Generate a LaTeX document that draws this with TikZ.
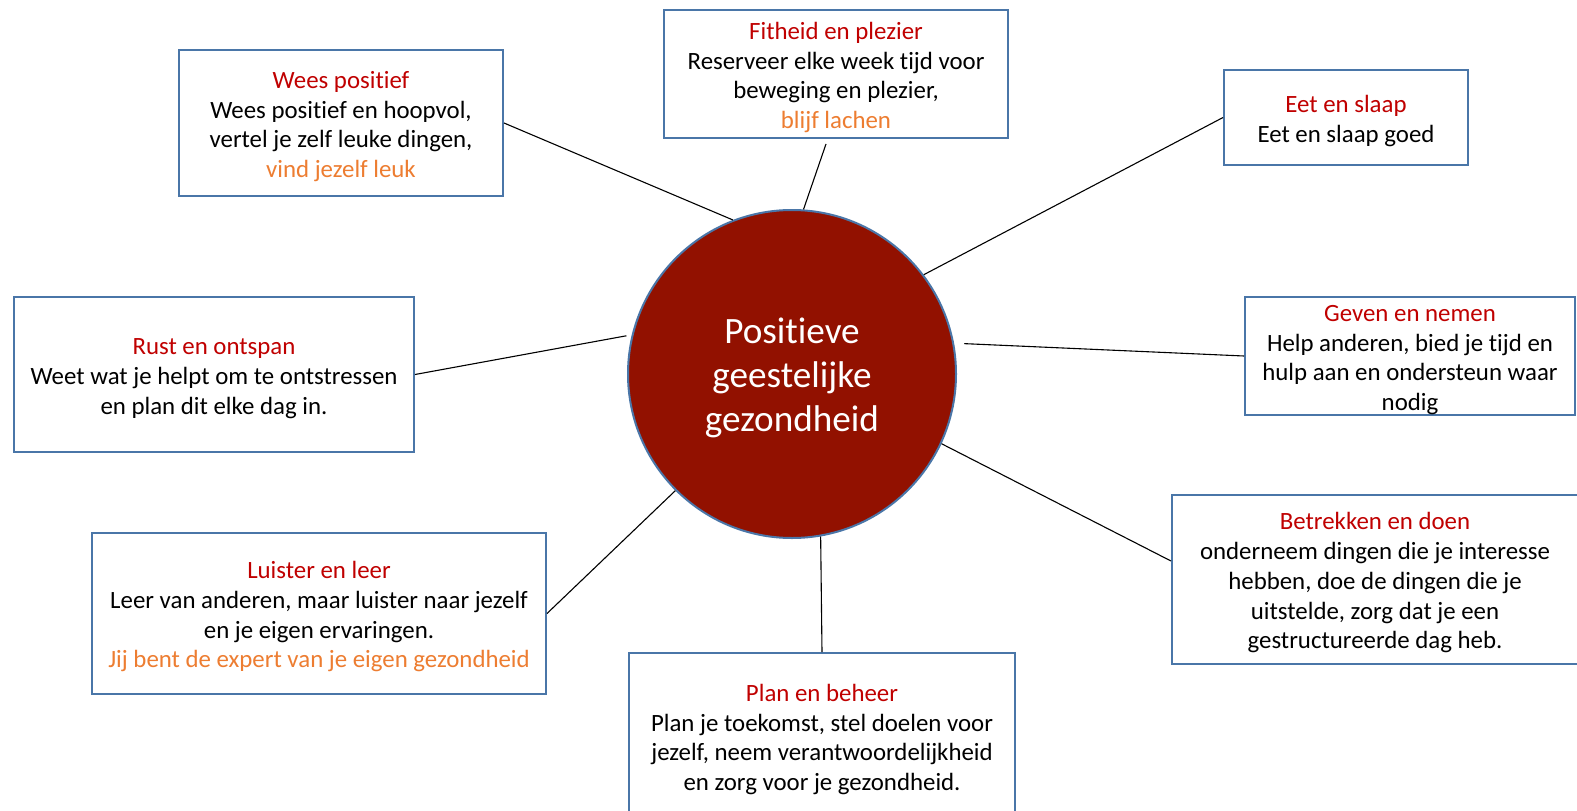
\documentclass[tikz,border=0pt]{standalone}
\usepackage{fontspec}
\setmainfont{Carlito}[Ligatures={NoCommon}]
\usetikzlibrary{calc}
\definecolor{boxblue}{HTML}{4A76A8}
\definecolor{circred}{HTML}{921100}
\definecolor{titred}{HTML}{C00000}
\definecolor{orng}{HTML}{ED7D31}
\tikzset{
  infobox/.style={draw=boxblue, line width=2pt, fill=white, align=center, inner sep=0pt,
    font=\fontsize{24.85}{29.7}\selectfont, text=black},
  conn/.style={draw=black, line width=1.1pt},
}
\newcommand{\ttl}[1]{\rule{0pt}{24pt}\textcolor{titred}{#1}}
\newcommand{\orn}[1]{\textcolor{orng}{#1}}
\begin{document}
\begin{tikzpicture}[x=1pt,y=-1pt]
\useasboundingbox (0,0) rectangle (1577,811);
\node[draw=boxblue, line width=2pt, fill=circred, circle, minimum size=328pt, inner sep=0pt,
  text=white, align=center, font=\fontsize{37.2}{44}\selectfont] (c) at (792,374)
  {\rule{0pt}{33pt}Positieve\\geestelijke\\gezondheid};
\node[infobox, minimum width=324pt, minimum height=146pt] (wees) at (341,123)
  {\ttl{Wees positief}\\Wees positief en hoopvol,\\vertel je zelf leuke dingen,\\\orn{vind jezelf leuk}};
\node[infobox, minimum width=344pt, minimum height=128pt] (fit) at (836,74)
  {\ttl{Fitheid en plezier}\\Reserveer elke week tijd voor\\beweging en plezier,\\\orn{blijf lachen}};
\node[infobox, minimum width=244pt, minimum height=95pt] (eet) at (1346,117.5)
  {\ttl{Eet en slaap}\\Eet en slaap goed};
\node[infobox, minimum width=330pt, minimum height=118pt] (geven) at (1410,356)
  {\ttl{Geven en nemen}\\Help anderen, bied je tijd en\\hulp aan en ondersteun waar\\nodig};
\node[infobox, minimum width=400pt, minimum height=155pt] (rust) at (214,374.5)
  {\ttl{Rust en ontspan}\\Weet wat je helpt om te ontstressen\\en plan dit elke dag in.};
\node[infobox, minimum width=454pt, minimum height=161pt] (luister) at (319,613.5)
  {\ttl{Luister en leer}\\Leer van anderen, maar luister naar jezelf\\en je eigen ervaringen.\\\orn{Jij bent de expert van je eigen gezondheid}};
\node[infobox, minimum width=386pt, minimum height=166pt] (plan) at (822,736)
  {\ttl{Plan en beheer}\\Plan je toekomst, stel doelen voor\\jezelf, neem verantwoordelijkheid\\en zorg voor je gezondheid.};
\node[infobox, minimum width=406pt, minimum height=169pt] (betr) at (1375,579.5)
  {\ttl{Betrekken en doen}\\onderneem dingen die je interesse\\hebben, doe de dingen die je\\uitstelde, zorg dat je een\\gestructureerde dag heb.};
\coordinate (fitS) at ($(fit.south)+(-10,5)$);
\coordinate (betrW) at ($(betr.west)+(0,-18.5)$);
\coordinate (gevC) at ($(c.center)!1.06!(c.10)$);
\coordinate (rustC) at ($(c.center)!1.03!(c.167)$);
\draw[conn] (wees.east) -- (c.111.5);
\draw[conn] (fitS) -- (c.86.4);
\draw[conn] (eet.west) -- (c.37.6);
\draw[conn] (geven.west) -- (gevC);
\draw[conn] (rust.east) -- (rustC);
\draw[conn] (luister.east) -- (c.225.5);
\draw[conn] (plan.north) -- (c.280);
\draw[conn] (betrW) -- (c.-25.5);
\end{tikzpicture}
\end{document}
